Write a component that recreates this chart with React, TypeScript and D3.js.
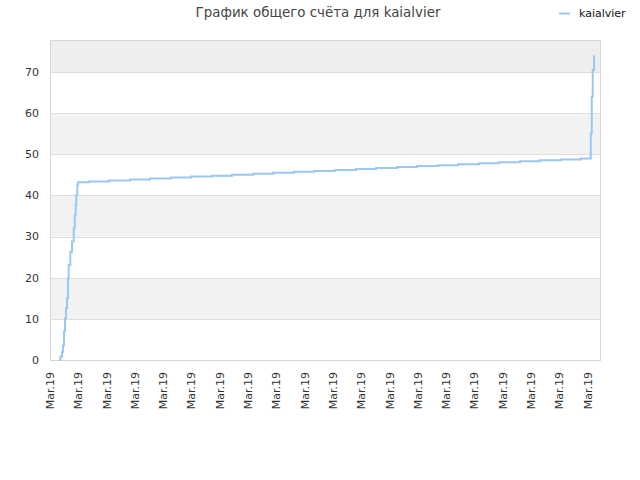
import { line as d3Line, curveStepAfter, scaleLinear } from 'd3'

const WIDTH = 640
const HEIGHT = 480
const MARGIN = { top: 40, right: 40, bottom: 120, left: 50 }
const INNER_WIDTH = WIDTH - MARGIN.left - MARGIN.right
const INNER_HEIGHT = HEIGHT - MARGIN.top - MARGIN.bottom

const TITLE = 'График общего счёта для kaialvier'
const SERIES_NAME = 'kaialvier'
const LINE_COLOR = '#99c8f5'

// time in tick units (one tick = one label), score at that moment
const times = [
  0.329, 0.364, 0.424, 0.46, 0.495, 0.53, 0.566, 0.601, 0.636, 0.661, 0.718, 0.778, 0.838, 0.873, 0.908,
  0.93, 0.965, 0.99, 1.379, 2.086, 2.828, 3.535, 4.277, 4.984, 5.726, 6.433, 7.176, 7.883, 8.625, 9.332,
  10.074, 10.817, 11.524, 12.266, 12.973, 13.715, 14.422, 15.164, 15.871, 16.614, 17.321, 18.063, 18.77,
  19.113, 19.148, 19.183, 19.23,
]
const scores = [
  0, 0.8, 2.0, 3.6, 6.9, 10.1, 12.6, 15.0, 19.9, 23.1, 26.3, 28.8, 32.0, 35.2, 37.7, 40.1, 42.5, 43.2, 43.43,
  43.66, 43.9, 44.13, 44.36, 44.59, 44.82, 45.06, 45.29, 45.52, 45.75, 45.98, 46.22, 46.45, 46.68, 46.91,
  47.14, 47.38, 47.61, 47.84, 48.07, 48.3, 48.54, 48.77, 49.0, 55.1, 64.0, 70.5, 74.1,
]

const xTicks = [0, 1, 2, 3, 4, 5, 6, 7, 8, 9, 10, 11, 12, 13, 14, 15, 16, 17, 18, 19]
const xTickLabel = 'Mar.19'
const yTicks = [0, 10, 20, 30, 40, 50, 60, 70]

export default function App() {
  const points = times.map((t, i) => ({ t, v: scores[i] }))
  const maxScore = Math.max(...scores)

  const x = scaleLinear().domain([0, 19.44]).range([0, INNER_WIDTH])
  const y = scaleLinear().domain([0, maxScore * 1.05]).range([INNER_HEIGHT, 0])

  const path = d3Line<{ t: number; v: number }>()
    .x((d) => x(d.t))
    .y((d) => y(d.v))
    .curve(curveStepAfter)

  // band boundaries: every 10 points, then to the top of the plot
  const bandEdges = [...yTicks, maxScore * 1.05]

  return (
    <div style={{ position: 'absolute', left: 0, top: 0 }}>
      <svg width={WIDTH} height={HEIGHT} style={{ display: 'block', fontFamily: '"DejaVu Sans", sans-serif' }}>
        <rect width={WIDTH} height={HEIGHT} fill="#ffffff" />
        <text x={318} y={17} textAnchor="middle" fontSize={13.4} fill="#444444">
          {TITLE}
        </text>
        <line x1={559} x2={570} y1={13.5} y2={13.5} stroke={LINE_COLOR} strokeWidth={2} />
        <text x={579} y={17} fontSize={11} fill="#111111">
          {SERIES_NAME}
        </text>
        <g transform={`translate(${MARGIN.left}, ${MARGIN.top})`}>
          {bandEdges.slice(0, -1).map((lo, i) => {
            const hi = bandEdges[i + 1]
            const isTop = i === bandEdges.length - 2
            const fill = isTop ? '#eeeeee' : i % 2 === 1 ? '#f2f2f2' : '#ffffff'
            return <rect key={lo} x={0} y={y(hi)} width={INNER_WIDTH} height={y(lo) - y(hi)} fill={fill} />
          })}
          {yTicks.map((v) => (
            <g key={v}>
              <line x1={0} x2={INNER_WIDTH} y1={Math.round(y(v)) + 0.5} y2={Math.round(y(v)) + 0.5} stroke="#dedede" />
              <text x={-11} y={y(v)} dy="0.35em" textAnchor="end" fontSize={11} fill="#333333">
                {v}
              </text>
            </g>
          ))}
          <rect x={0.5} y={0.5} width={INNER_WIDTH} height={INNER_HEIGHT} fill="none" stroke="#d6d6d6" />
          <path d={path(points) ?? undefined} fill="none" stroke={LINE_COLOR} strokeWidth={2} />
          {xTicks.map((t) => (
            <text
              key={t}
              transform={`translate(${x(t) + 4}, ${INNER_HEIGHT + 12}) rotate(-90)`}
              textAnchor="end"
              fontSize={11}
              fill="#333333"
            >
              {xTickLabel}
            </text>
          ))}
        </g>
      </svg>
    </div>
  )
}
